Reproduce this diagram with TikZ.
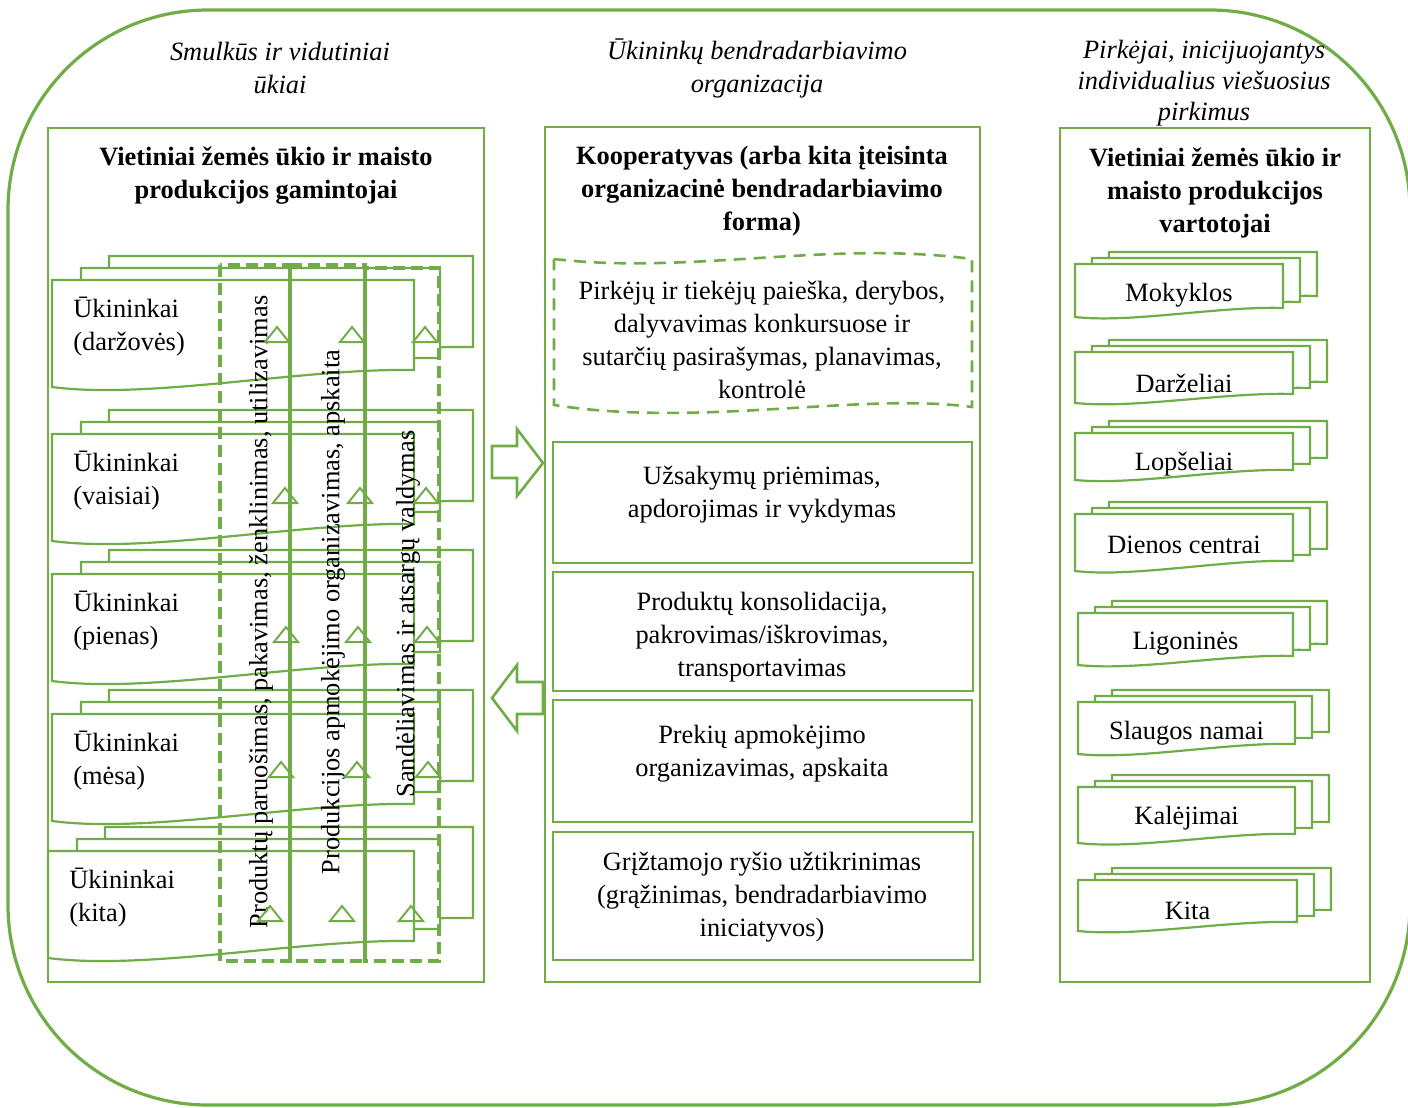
\documentclass[tikz,border=0pt]{standalone}
\usepackage{fontspec}
\setmainfont{Liberation Serif}
\usepackage{tikz}

\definecolor{leafgreen}{RGB}{112,173,71}

\tikzset{
    boxframe/.style={draw=leafgreen, line width=1.3pt},
    docsheet/.style={draw=leafgreen, line width=1.1pt, fill=white},
    lanebox/.style={draw=leafgreen, line width=2pt, dash pattern=on 6pt off 3pt},
    wavybox/.style={draw=leafgreen, line width=1.3pt, dash pattern=on 6pt off 4pt},
    tipmark/.style={draw=leafgreen, line width=1pt},
    bodytext/.style={font=\fontsize{13.2}{16.5}\selectfont, align=center, inner sep=0pt},
    plaintext/.style={bodytext, yshift=-1.5pt},
    headtext/.style={font=\fontsize{13.2}{16.5}\selectfont\itshape, align=center, inner sep=0pt, yshift=-1pt},
    titletext/.style={font=\fontsize{13.2}{16.5}\selectfont\bfseries, align=center, inner sep=0pt, yshift=-1.5pt}
}

% one sheet with a wavy bottom: #1 command, #2 left, #3 top, #4 right, #5 left height, #6 right height
\newcommand{\sheetshape}[6]{%
    #1 (#2,#3) -- (#4,#3) -- (#4,#3+#6)
        .. controls ({(#4)-0.31*((#4)-(#2))},{(#3)+(#6)-2}) and ({(#2)+0.27*((#4)-(#2))},{(#3)+1.12*(#5)}) .. (#2,#3+#5) -- cycle;}

% stack of three sheets for a farmer group
\newcommand{\farmer}[4]{%
    \sheetshape{\draw[docsheet]}{#2+57}{#3-24}{473}{107}{91}
    \sheetshape{\draw[docsheet]}{#2+29}{#3-12}{440}{107}{90}
    \sheetshape{\draw[docsheet]}{#2}{#3}{414}{107}{90}
    \node[plaintext, align=left, anchor=west] (#1) at (#2+21,#3+44) {#4};
}

% stack of three sheets for a buyer group
\newcommand{\buyer}[7]{%
    \sheetshape{\draw[docsheet]}{#2+34}{#3-12}{#4+34}{#5}{#6}
    \sheetshape{\draw[docsheet]}{#2+17}{#3-6}{#4+17}{#5}{#6}
    \sheetshape{\draw[docsheet]}{#2}{#3}{#4}{#5}{#6}
    \node[plaintext] (#1) at ({((#2)+(#4))/2},#3+28) {#7};
}

\newcommand{\flowtip}[2]{\draw[tipmark] (#1,#2) -- ++(12,15) -- ++(-24,0) -- cycle;}

\begin{document}
\begin{tikzpicture}[x=0.5pt, y=-0.5pt]
    \useasboundingbox (0,0) rectangle (1408,1108);

    % outer frame
    \begin{scope}
        \clip (0,0) rectangle (1408,1108);
        \draw[boxframe, line width=1.6pt, rounded corners=100pt] (8,10) rectangle (1410,1105);
    \end{scope}

    % column headers
    \node[headtext] (smallfarms) at (280,66) {Smulkūs ir vidutiniai\\ūkiai};
    \node[headtext] (cooporg) at (757,66) {Ūkininkų bendradarbiavimo\\organizacija};
    \node[headtext, font=\fontsize{13.2}{15.5}\selectfont\itshape] (buyers) at (1204,81) {Pirkėjai, inicijuojantys\\individualius viešuosius\\pirkimus};

    % main boxes
    \draw[boxframe] (48,128) rectangle (484,982);
    \draw[boxframe] (545,127) rectangle (980,982);
    \draw[boxframe] (1060,128) rectangle (1370,982);

    \node[titletext] (producers) at (266,173) {Vietiniai žemės ūkio ir maisto\\produkcijos gamintojai};
    \node[titletext] (coop) at (762,188) {Kooperatyvas (arba kita įteisinta\\organizacinė bendradarbiavimo\\forma)};
    \node[titletext] (consumers) at (1215,190) {Vietiniai žemės ūkio ir\\maisto produkcijos\\vartotojai};

    % farmers
    \farmer{vegfarm}{52}{280}{Ūkininkai\\(daržovės)}
    \farmer{fruitfarm}{52}{434}{Ūkininkai\\(vaisiai)}
    \farmer{milkfarm}{52}{574}{Ūkininkai\\(pienas)}
    \farmer{meatfarm}{52}{714}{Ūkininkai\\(mėsa)}
    \farmer{otherfarm}{48}{851}{Ūkininkai\\(kita)}

    % shared service lanes
    \draw[lanebox] (220,265) rectangle (290,961);
    \draw[lanebox] (290,265) rectangle (365,961);
    \draw[lanebox] (365,268) rectangle (439,961);
    \draw[leafgreen, line width=2pt] (290,265) -- (290,961);

    \node[bodytext, rotate=90] (packing) at (261,612) {Produktų paruošimas, pakavimas, ženklinimas, utilizavimas};
    \node[bodytext, rotate=90] (paying) at (333,612) {Produkcijos apmokėjimo organizavimas, apskaita};
    \node[bodytext, rotate=90] (storing) at (408,614) {Sandėliavimas ir atsargų valdymas};

    \flowtip{277}{327} \flowtip{352}{327} \flowtip{425}{327}
    \flowtip{285}{488} \flowtip{360}{488} \flowtip{426}{488}
    \flowtip{286}{627} \flowtip{358}{627} \flowtip{427}{627}
    \flowtip{281}{762} \flowtip{357}{762} \flowtip{428}{762}
    \flowtip{270}{906} \flowtip{342}{906} \flowtip{411}{906}

    % block arrows
    \draw[boxframe] (492,446) -- (517,446) -- (517,429) -- (543,463) -- (517,496) -- (517,478) -- (492,478) -- cycle;
    \draw[boxframe] (543,682) -- (517,682) -- (517,665) -- (492,698) -- (517,731) -- (517,714) -- (543,714) -- cycle;

    % cooperative functions
    \draw[wavybox] (554,259) .. controls (690,275) and (830,240) .. (972,259) -- (972,407)
        .. controls (860,392) and (700,428) .. (554,405) -- cycle;
    \draw[boxframe] (553,442) rectangle (972,563);
    \draw[boxframe] (553,572) rectangle (973,691);
    \draw[boxframe] (553,700) rectangle (972,822);
    \draw[boxframe] (553,832) rectangle (973,960);

    \node[plaintext] (search) at (762,337) {Pirkėjų ir tiekėjų paieška, derybos,\\dalyvavimas konkursuose ir\\sutarčių pasirašymas, planavimas,\\kontrolė};
    \node[plaintext] (orders) at (762,492) {Užsakymų priėmimas,\\apdorojimas ir vykdymas};
    \node[plaintext] (logistics) at (762,634) {Produktų konsolidacija,\\pakrovimas/iškrovimas,\\transportavimas};
    \node[plaintext] (payments) at (762,751) {Prekių apmokėjimo\\organizavimas, apskaita};
    \node[plaintext] (feedback) at (762,894) {Grįžtamojo ryšio užtikrinimas\\(grąžinimas, bendradarbiavimo\\iniciatyvos)};

    % buyers
    \buyer{schools}{1075}{264}{1283}{53}{44}{Mokyklos}
    \buyer{kindergartens}{1075}{352}{1293}{51}{42}{Darželiai}
    \buyer{nurseries}{1075}{433}{1293}{47}{37}{Lopšeliai}
    \buyer{daycentres}{1075}{514}{1293}{57}{47}{Dienos centrai}
    \buyer{hospitals}{1078}{613}{1293}{52}{43}{Ligoninės}
    \buyer{carehomes}{1078}{702}{1295}{52}{42}{Slaugos namai}
    \buyer{prisons}{1078}{787}{1295}{56}{47}{Kalėjimai}
    \buyer{otherbuyers}{1078}{880}{1297}{51}{42}{Kita}
\end{tikzpicture}
\end{document}
